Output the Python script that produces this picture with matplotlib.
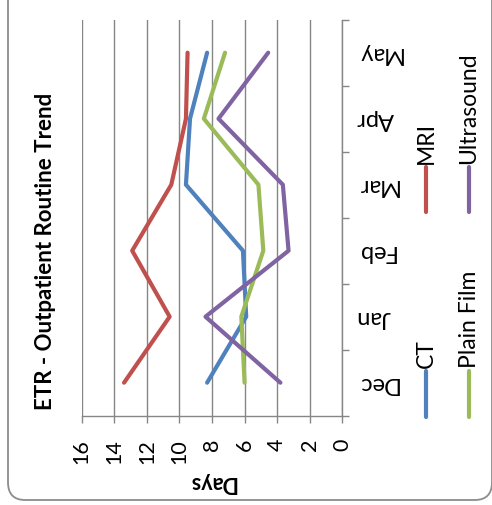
#!/usr/bin/env python3
"""ETR outpatient routine trend, drawn rotated like the original sheet."""
import matplotlib

matplotlib.use("Agg")
import matplotlib.pyplot as plt
from matplotlib.lines import Line2D
from matplotlib.patches import FancyBboxPatch

months = ["Dec", "Jan", "Feb", "Mar", "Apr", "May"]
ct = [8.3, 5.9, 6.1, 9.6, 9.35, 8.3]
mri = [13.4, 10.6, 12.9, 10.5, 9.6, 9.5]
plain_film = [6.0, 6.2, 4.85, 5.15, 8.5, 7.2]
ultrasound = [3.8, 8.4, 3.3, 3.65, 7.6, 4.55]
day_ticks = [0, 2, 4, 6, 8, 10, 12, 14, 16]

series = [
    ("CT", ct, "#4F81BD"),
    ("MRI", mri, "#C0504D"),
    ("Plain Film", plain_film, "#9BBB59"),
    ("Ultrasound", ultrasound, "#8064A2"),
]

plt.rcParams["font.family"] = ["Lato", "DejaVu Sans"]
W, H = 492, 506
fig = plt.figure(figsize=(W / 100, H / 100), dpi=100)


def fx(px):
    return px / W


def fy(py):
    return 1 - py / H


# rounded chart border
fig.add_artist(FancyBboxPatch((fx(8), fy(501)), fx(492) - fx(8), fy(-20) - fy(501),
                              boxstyle="round,pad=0,rounding_size=0.035",
                              transform=fig.transFigure, fc="white", ec="#8c8c8c",
                              lw=1.3, zorder=0))

left, right, top, bottom = 81.7, 342.3, 20.7, 416.7
ax = fig.add_axes([fx(left), fy(bottom), fx(right) - fx(left), fy(top) - fy(bottom)])
ax.set_facecolor("none")
pos = list(range(len(months)))
for name, vals, color in series:
    ax.plot(vals, pos, color=color, lw=3.0, solid_capstyle="round",
            solid_joinstyle="round", zorder=3)

ax.set_xlim(16, 0)
ax.set_ylim(-0.5, len(months) - 0.5)
ax.set_xticks(day_ticks)
ax.set_xticklabels([str(t) for t in day_ticks], rotation=90, fontsize=15.5, va="top", ha="center")
ax.tick_params(axis="x", direction="out", length=5, width=1, color="#868686", pad=11)
ax.grid(axis="x", color="#868686", lw=1.0)

ax.yaxis.tick_right()
ax.set_yticks([i - 0.5 for i in range(len(months) + 1)])
ax.set_yticklabels([])
ax.set_yticks(pos, minor=True)
ax.set_yticklabels(months, minor=True, rotation=180, fontsize=17, ha="left", va="center")
ax.tick_params(axis="y", which="major", direction="out", length=5, width=1, color="#868686")
ax.tick_params(axis="y", which="minor", length=0, pad=10)

for side in ["top", "left"]:
    ax.spines[side].set_visible(False)
for side in ["bottom", "right"]:
    ax.spines[side].set_color("#868686")
    ax.spines[side].set_linewidth(1.0)

fig.text(fx(45.5), fy(251), "ETR - Outpatient Routine Trend", rotation=90, fontsize=16,
         fontweight="bold", ha="center", va="center")
fig.text(fx(212), fy(482), "Days", rotation=180, fontsize=15.5, fontweight="bold",
         ha="center", va="center")

# legend, rotated with the chart
legend_xy = {"CT": (426, 418, 372), "MRI": (426, 213, 168),
             "Plain Film": (469, 418, 372), "Ultrasound": (469, 213, 168)}
for name, vals, color in series:
    x, y0, y1 = legend_xy[name]
    fig.add_artist(Line2D([fx(x), fx(x)], [fy(y0), fy(y1)], transform=fig.transFigure,
                          color=color, lw=3.0, solid_capstyle="round"))
    fig.text(fx(x), fy(y1 - 4), name, rotation=90, fontsize=16.5, ha="center", va="bottom")

fig.savefig("out.png", dpi=100)
